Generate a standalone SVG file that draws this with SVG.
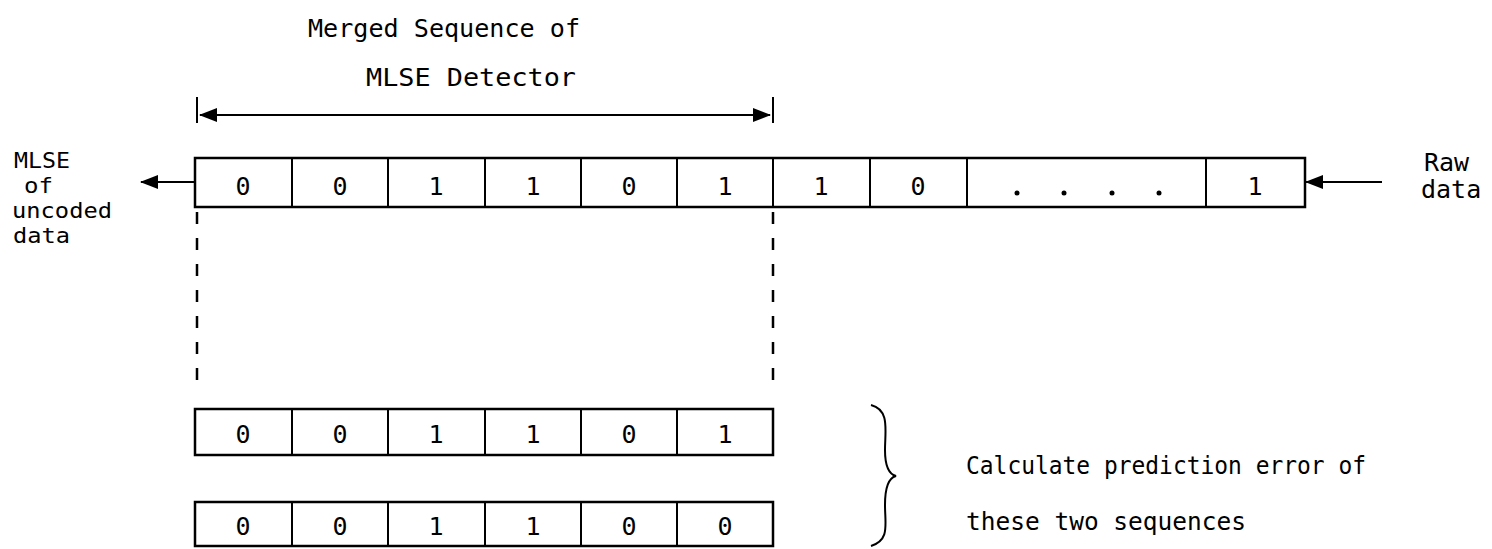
<svg xmlns="http://www.w3.org/2000/svg" width="1492" height="549" viewBox="0 0 1492 549">
<style>
text{font-family:"DejaVu Sans Mono","Liberation Mono",monospace;font-size:25px;fill:#000}
.c{text-anchor:middle;font-size:26px}
.s{font-size:22px}
.box{fill:none;stroke:#000;stroke-width:2.5}
.ln{stroke:#000;stroke-width:2;fill:none}
.dash{stroke:#000;stroke-width:2.5;stroke-dasharray:12 14;fill:none}
</style>
<defs>
<marker id="ah" viewBox="0 0 18 14" refX="17" refY="7" markerWidth="18" markerHeight="14" markerUnits="userSpaceOnUse" orient="auto-start-reverse">
<path d="M0,0 L18,7 L0,14 Z" fill="#000"/>
</marker>
</defs>
<g id="title">
<text x="308" y="37" textLength="272" lengthAdjust="spacingAndGlyphs">Merged Sequence of</text>
<text x="366" y="86" textLength="210" lengthAdjust="spacingAndGlyphs">MLSE Detector</text>
</g>
<g id="top-row">
<rect class="box" x="195" y="158" width="1110" height="49"/>
<path class="ln" d="M292,158V207M388,158V207M485,158V207M581,158V207M677,158V207M773,158V207M870,158V207M967,158V207M1206,158V207"/>
<g class="c">
<text x="243" y="195">0</text><text x="340" y="195">0</text><text x="436" y="195">1</text><text x="533" y="195">1</text><text x="629" y="195">0</text><text x="725" y="195">1</text><text x="821" y="195">1</text><text x="918" y="195">0</text><text x="1255" y="195">1</text>
</g>
<g fill="#000"><circle cx="1017" cy="193" r="2.5"/><circle cx="1064" cy="193" r="2.5"/><circle cx="1112" cy="193" r="2.5"/><circle cx="1159" cy="193" r="2.5"/></g>
</g>
<g id="row-2">
<rect class="box" x="195" y="409" width="578" height="46"/>
<path class="ln" d="M292,409V455M388,409V455M485,409V455M581,409V455M677,409V455"/>
<g class="c">
<text x="243" y="443">0</text><text x="340" y="443">0</text><text x="436" y="443">1</text><text x="533" y="443">1</text><text x="629" y="443">0</text><text x="725" y="443">1</text>
</g>
</g>
<g id="row-3">
<rect class="box" x="195" y="502" width="578" height="44"/>
<path class="ln" d="M292,502V546M388,502V546M485,502V546M581,502V546M677,502V546"/>
<g class="c">
<text x="243" y="535">0</text><text x="340" y="535">0</text><text x="436" y="535">1</text><text x="533" y="535">1</text><text x="629" y="535">0</text><text x="725" y="535">0</text>
</g>
</g>
<g id="output-label">
<text class="s" x="14" y="168" textLength="56" lengthAdjust="spacingAndGlyphs">MLSE</text>
<text class="s" x="24" y="193" textLength="29" lengthAdjust="spacingAndGlyphs">of</text>
<text class="s" x="12" y="218" textLength="100" lengthAdjust="spacingAndGlyphs">uncoded</text>
<text class="s" x="13" y="243" textLength="57" lengthAdjust="spacingAndGlyphs">data</text>
</g>
<g id="input-label">
<text x="1424" y="171">Raw</text>
<text x="1421" y="198">data</text>
</g>
<g id="note">
<text x="966" y="474" textLength="400" lengthAdjust="spacingAndGlyphs">Calculate prediction error of</text>
<text x="966" y="530" textLength="280" lengthAdjust="spacingAndGlyphs">these two sequences</text>
</g>
<g id="connectors">
<path class="ln" d="M197,97V123M773,97V123"/>
<path class="ln" d="M200,115H770" marker-start="url(#ah)" marker-end="url(#ah)"/>
<path class="ln" d="M195,182H141" marker-end="url(#ah)"/>
<path class="ln" d="M1382,182H1306" marker-end="url(#ah)"/>
<path class="dash" d="M197,212V388M773,212V388"/>
<path class="ln" stroke-width="2.5" d="M871,405C890,410 885,430 885,450C885,465 888,474 896,476C888,478 885,488 885,505C885,525 890,540 871,546"/>
</g>
</svg>
